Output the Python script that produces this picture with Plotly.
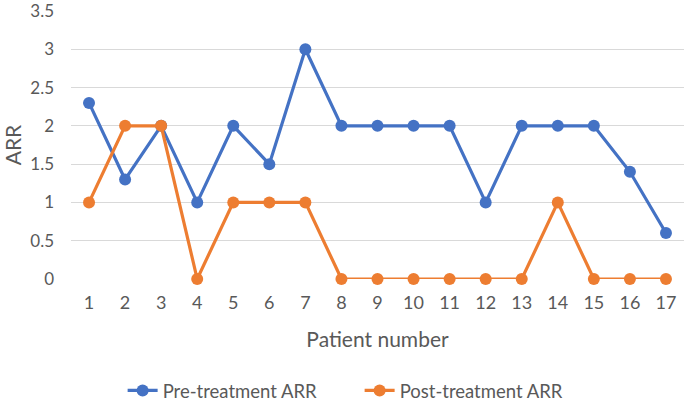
import plotly.graph_objects as go

patients = list(range(1, 18))
pre_arr = [2.3, 1.3, 2, 1, 2, 1.5, 3, 2, 2, 2, 2, 1, 2, 2, 2, 1.4, 0.6]
post_arr = [1, 2, 2, 0, 1, 1, 1, 0, 0, 0, 0, 0, 0, 1, 0, 0, 0]
y_ticks = [0, 0.5, 1, 1.5, 2, 2.5, 3, 3.5]
y_tick_labels = ["0", "0.5", "1", "1.5", "2", "2.5", "3", "3.5"]

grey = "#595959"
font_family = "Lato, Open Sans, sans-serif"

fig = go.Figure()
fig.add_trace(go.Scatter(x=patients, y=pre_arr, mode="lines+markers", name="Pre-treatment ARR",
                         line=dict(color="#4472C4", width=3.2), marker=dict(size=12, color="#4472C4")))
fig.add_trace(go.Scatter(x=patients, y=post_arr, mode="lines+markers", name="Post-treatment ARR",
                         line=dict(color="#ED7D31", width=3.2), marker=dict(size=12, color="#ED7D31")))

fig.update_layout(
    width=685, height=403,
    margin=dict(l=71, r=1, t=11, b=124),
    plot_bgcolor="white", paper_bgcolor="white",
    font=dict(family=font_family, color=grey, size=18),
    xaxis=dict(range=[0.5, 17.5], tickmode="array", tickvals=patients,
               ticktext=[str(p) for p in patients], showgrid=False, zeroline=False,
               showline=False, ticks="", tickfont=dict(size=18, color=grey), automargin=False,
               ticklabelstandoff=11,
               title=dict(text="Patient number", font=dict(size=21, color=grey), standoff=20)),
    yaxis=dict(range=[0, 3.5001], tickmode="array", tickvals=y_ticks, ticktext=y_tick_labels,
               showgrid=True, gridcolor="#D9D9D9", gridwidth=1, zeroline=False,
               showline=False, ticks="", tickfont=dict(size=17, color=grey), ticklabelstandoff=16,
               automargin=False, ticklabeloverflow="allow",
               title=dict(text="ARR", font=dict(size=21, color=grey), standoff=18)),
    legend=dict(orientation="h", xref="container", x=0.525, xanchor="center",
                yref="container", y=0.03, yanchor="middle",
                entrywidth=192, entrywidthmode="pixels",
                font=dict(size=18.5, color=grey)),
    showlegend=True,
)
fig.update_traces(cliponaxis=False)

fig.write_html("out.html", config={"displayModeBar": False},
               post_script="document.body.style.margin='0px';")
